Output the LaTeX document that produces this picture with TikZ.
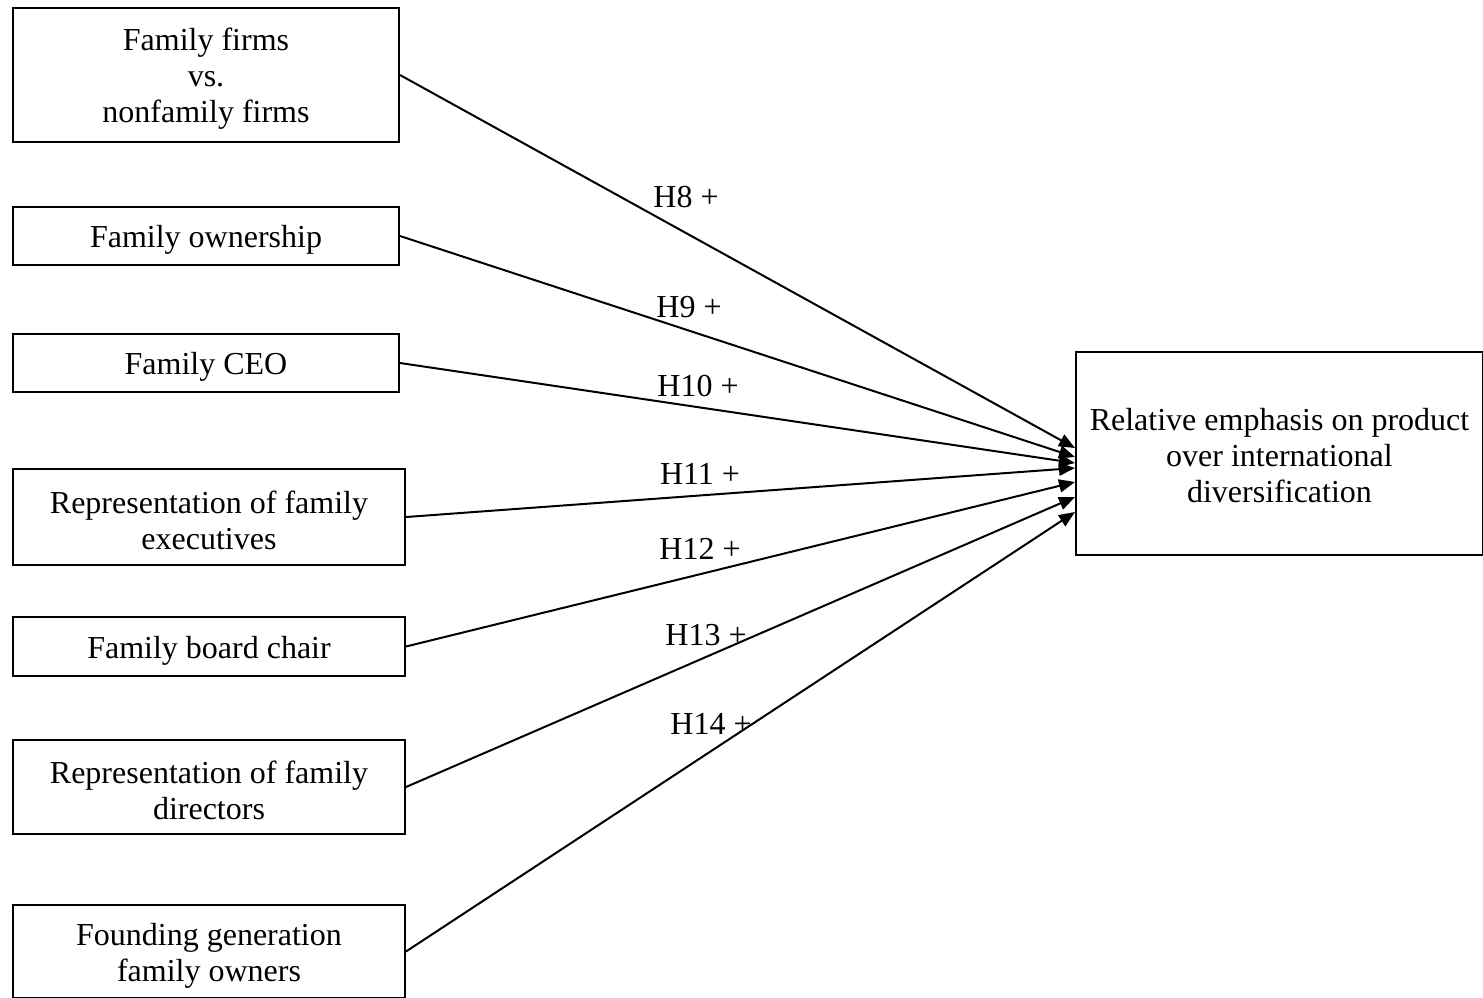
\documentclass[tikz,border=0pt]{standalone}
\usepackage{fontspec}
\setmainfont{Liberation Serif}
\usetikzlibrary{arrows.meta}
\newcommand{\boxstrut}{\rule{0pt}{15pt}}
\tikzset{
	factor/.style={draw, line width=1pt, align=center, inner sep=0pt},
	hyp/.style={line width=1pt, -{Triangle[length=8pt,width=6.5pt]}},
	hlabel/.style={inner sep=0pt}
}
\begin{document}
\begin{tikzpicture}[x=.5pt, y=-.5pt, font=\fontsize{16}{18}\selectfont]
	\useasboundingbox (0,0) rectangle (1483,997);
	%boxes left
	\node[factor, minimum width=193pt, minimum height=67pt] (ff) at (206,75)
	{\boxstrut Family firms\\vs.\\nonfamily firms};
	\node[factor, minimum width=193pt, minimum height=29pt] (fo) at (206,236)
	{\boxstrut Family ownership};
	\node[factor, minimum width=193pt, minimum height=29pt] (fceo) at (206,363)
	{\boxstrut Family CEO};
	\node[factor, minimum width=196pt, minimum height=48pt] (fexec) at (209,517)
	{\boxstrut Representation of family\\executives};
	\node[factor, minimum width=196pt, minimum height=29.5pt] (fchair) at (209,646.5)
	{\boxstrut Family board chair};
	\node[factor, minimum width=196pt, minimum height=47pt] (fdir) at (209,787)
	{\boxstrut Representation of family\\directors};
	\node[factor, minimum width=196pt, minimum height=46.5pt] (fgen) at (209,951.5)
	{\boxstrut Founding generation\\family owners};
	%box right
	\node[factor, minimum width=203.5pt, minimum height=101.5pt] (emph) at (1279.5,453.5)
	{\rule{0pt}{13pt}Relative emphasis on product\\over international\\diversification};
	%hypotheses
	\foreach \src/\dy/\lab/\lx/\ly in {
		ff/2.75/H8/686/197,
		fo/-1.75/H9/689/307,
		fceo/-4.75/H10/698/386,
		fexec/-7.25/H11/700/474,
		fchair/-14.25/H12/700/549,
		fdir/-21.75/H13/706/635,
		fgen/-29.25/H14/711/724%
	}
	{
		\draw[hyp] (\src.east) -- ([yshift=\dy pt]emph.west);
		\node[hlabel] (l\lab) at (\lx,\ly) {\lab{} +};
	}
\end{tikzpicture}
\end{document}
